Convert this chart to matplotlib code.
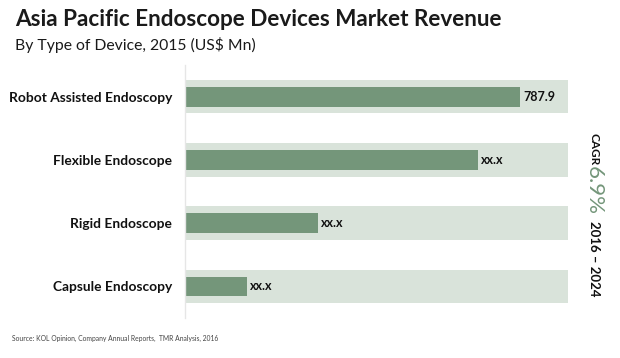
import matplotlib.pyplot as plt

categories = ["Robot Assisted Endoscopy", "Flexible Endoscope", "Rigid Endoscope", "Capsule Endoscopy"]
values = [787.9, 689, 312, 146]
value_labels = ["787.9", "xx.x", "xx.x", "xx.x"]
full_scale = 900

bar_green = "#74967a"
band_green = "#d9e3da"
font = ["Lato", "DejaVu Sans"]

plt.rcParams["font.family"] = font

fig = plt.figure(figsize=(6.2, 3.58), dpi=100)
ax = fig.add_axes([0.298, 0.112, 0.618, 0.706])

ypos = list(range(len(categories)))
ax.barh(ypos, [full_scale] * len(categories), height=0.53, color=band_green, zorder=1)
ax.barh(ypos, values, height=0.31, color=bar_green, zorder=2)
for y, v, lab in zip(ypos, values, value_labels):
    ax.text(v + 7, y, lab, va="center", ha="left", fontsize=9, fontweight="bold", color="#111111")

ax.set_xlim(0, full_scale)
ax.set_ylim(len(categories) - 0.5, -0.5)
ax.set_yticks(ypos)
ax.set_yticklabels(categories, fontsize=9.9, fontweight="bold", color="#111111")
ax.tick_params(axis="y", length=0, pad=9)
ax.set_xticks([])
for s in ["top", "right", "bottom"]:
    ax.spines[s].set_visible(False)
ax.spines["left"].set_color("#e6e6e6")
ax.spines["left"].set_linewidth(1)

# titles
fig.text(15 / 620, 1 - 19 / 358, "Asia Pacific Endoscope Devices Market Revenue",
         fontsize=16.2, fontweight="bold", color="#1a1a1a", va="center", ha="left")
fig.text(15 / 620, 1 - 45 / 358, "By Type of Device, 2015 (US$ Mn)",
         fontsize=11.3, color="#1a1a1a", va="center", ha="left")
fig.text(12 / 620, 1 - 338 / 358, "Source: KOL Opinion, Company Annual Reports,  TMR Analysis, 2016",
         fontsize=4.9, color="#444444", va="center", ha="left")

# CAGR rotated text
cx = 594 / 620
fig.text(cx, 1 - 133 / 358, "CAGR", rotation=-90, fontsize=8.5, fontweight="bold",
         color="#111111", ha="center", va="top")
fig.text(cx, 1 - 166 / 358, "6.9%", rotation=-90, fontsize=16, color="#74967a",
         ha="center", va="top")
fig.text(cx, 1 - 221 / 358, "2016 – 2024", rotation=-90, fontsize=9.5, fontweight="bold",
         color="#111111", ha="center", va="top")

fig.savefig("out.png", dpi=100)
